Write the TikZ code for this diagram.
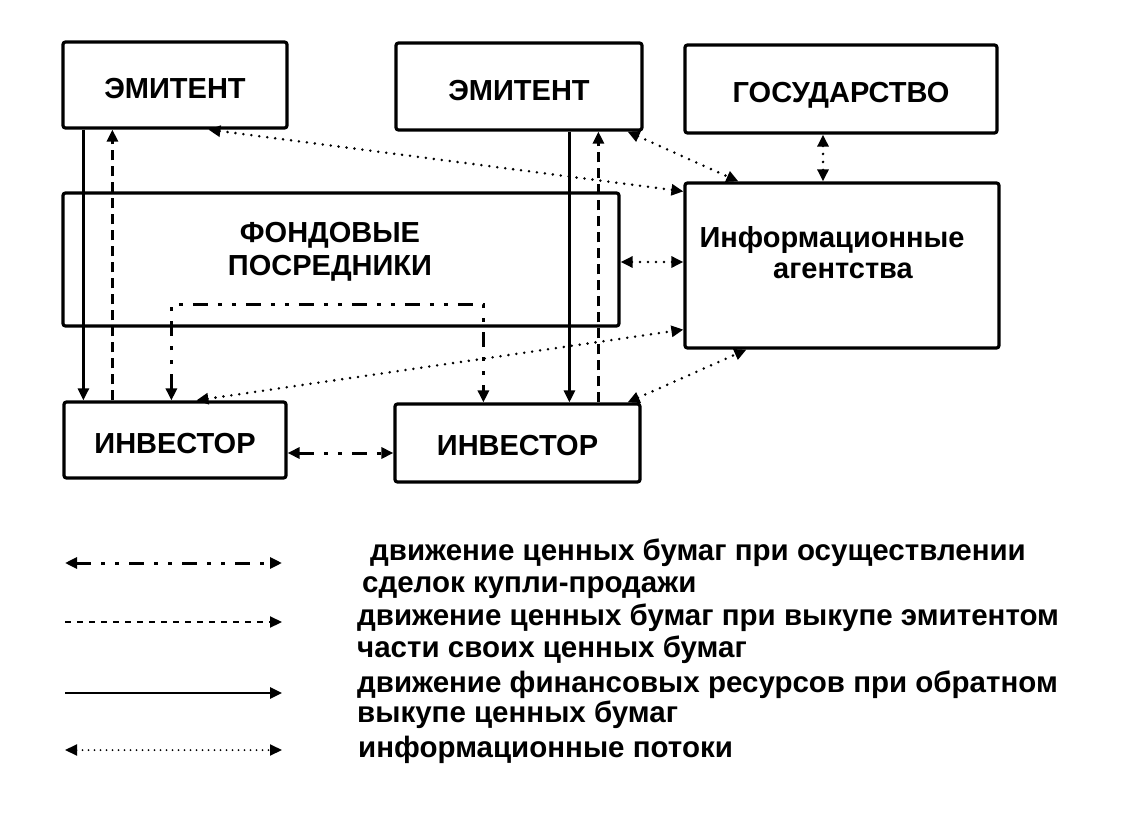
\documentclass[tikz,border=0pt]{standalone}
\usepackage{fontspec}
\setmainfont{Liberation Sans}
\usetikzlibrary{arrows.meta,calc}
\newcommand{\boxfont}{\fontsize{29}{33}\selectfont\bfseries}
\newcommand{\legfont}{\fontsize{29.5}{32}\selectfont\bfseries}
\begin{document}
\begin{tikzpicture}[x=1pt,y=-1pt,
  box/.style={draw,line width=3.2pt,rounded corners=2.5pt,inner sep=0pt,font=\boxfont,
    text height=27pt,text depth=0pt},
  lbl/.style={inner sep=0pt,font=\boxfont},
  leg/.style={inner sep=0pt,font=\legfont,anchor=base west},
  fin/.style={line width=2.6pt,-{Triangle[length=12pt,width=11pt]}},
  buy/.style={line width=2.8pt,dash pattern=on 10pt off 6pt,-{Triangle[length=12pt,width=11pt]}},
  trade/.style={line width=3pt,dash pattern=on 15pt off 10pt on 4pt off 10pt on 4pt off 10pt,
    {Triangle[length=12pt,width=11pt]}-{Triangle[length=12pt,width=11pt]}},
  infoflow/.style={line width=2.8pt,line cap=round,dash pattern=on 0pt off 8pt,
    {Triangle[length=12pt,width=11pt]}-{Triangle[length=12pt,width=11pt]}},
]
\useasboundingbox (0,0) rectangle (1128,816);

% boxes
\node[box,minimum width=224pt,minimum height=86pt] (em1) at (175,85) {ЭМИТЕНТ};
\node[box,minimum width=246pt,minimum height=87pt] (em2) at (519,86.5) {ЭМИТЕНТ};
\node[box,minimum width=312pt,minimum height=88pt] (gos) at (841,89) {ГОСУДАРСТВО};
\node[box,minimum width=556pt,minimum height=133pt] (fond) at (341,259.5) {};
\node[lbl,align=center] (fondtext) at (330,252) {ФОНДОВЫЕ\\ПОСРЕДНИКИ};
\node[box,minimum width=314pt,minimum height=165pt] (info) at (842,265.5) {};
\node[lbl,anchor=base] (infot1) at (832,247) {Информационные};
\node[lbl,anchor=base] (infot2) at (843,278) {агентства};
\node[box,minimum width=222pt,minimum height=76pt] (inv1) at (175,440) {ИНВЕСТОР};
\node[box,minimum width=245pt,minimum height=78pt,text height=25pt] (inv2) at (517.5,443) {ИНВЕСТОР};

% financial flows (solid) and buy-back (dashed)
\draw[fin] ($(em1.south west)+(22,0)$) coordinate (s1) -- (s1 |- inv1.north);
\path ($(em1.south west)+(51,0)$) coordinate (d1);
\draw[buy] (d1 |- inv1.north) -- (d1);
\draw[fin] ($(em2.south west)+(175,0)$) coordinate (s2) -- (s2 |- inv2.north);
\path ($(em2.south west)+(204,0)$) coordinate (d2);
\draw[buy] (d2 |- inv2.north) -- (d2);

% trade flows (dash-dot)
\path ($(inv1.north west)+(109,0)$) coordinate (t1);
\path ($(inv2.north west)+(90,0)$) coordinate (t2);
\path ($(fond.south)+(0,-23)$) coordinate (th);
\draw[trade] (t1) -- (t1 |- th) -| (t2);
\path ($(inv1.east)+(0,13)$) coordinate (p1);
\draw[trade] (p1) -- (p1 -| inv2.west);

% information flows (dotted)
\draw[infoflow] ($(em1.south west)+(147,0)$) -- ($(info.north west)+(0,10)$);
\draw[infoflow] ($(em2.south east)+(-16,0)$) -- ($(info.north west)+(55,0)$);
\path ($(gos.south)+(-18,0)$) coordinate (g1);
\draw[infoflow] (g1) -- (g1 |- info.north);
\path ($(fond.east)+(0,2.5)$) coordinate (f1);
\draw[infoflow] (f1) -- (f1 -| info.west);
\draw[infoflow] ($(inv1.north west)+(134,0)$) -- ($(info.south west)+(0,-20)$);
\draw[infoflow] ($(inv2.north east)+(-14,0)$) -- ($(info.south west)+(63,0)$);

% legend
\coordinate (l1a) at (65,563); \coordinate (l1b) at (282,563);
\coordinate (l2a) at (65,622); \coordinate (l2b) at (282,622);
\coordinate (l3a) at (65,693); \coordinate (l3b) at (282,693);
\coordinate (l4a) at (65,750); \coordinate (l4b) at (282,750);
\draw[trade] (l1a) -- (l1b);
\draw[buy,line width=2.2pt,dash pattern=on 6pt off 6pt] (l2a) -- (l2b);
\draw[fin] (l3a) -- (l3b);
\draw[infoflow,line width=2pt,dash pattern=on 0pt off 6pt] (l4a) -- (l4b);

\node[leg] (lt1a) at (370,560) {движение ценных бумаг при осуществлении};
\node[leg] (lt1b) at (362,592) {сделок купли-продажи};
\node[leg] (lt2a) at (357,625) {движение ценных бумаг при выкупе эмитентом};
\node[leg] (lt2b) at (357,657) {части своих ценных бумаг};
\node[leg] (lt3a) at (357,692) {движение финансовых ресурсов при обратном};
\node[leg] (lt3b) at (357,722) {выкупе ценных бумаг};
\node[leg] (lt4) at (358,757) {информационные потоки};
\end{tikzpicture}
\end{document}
